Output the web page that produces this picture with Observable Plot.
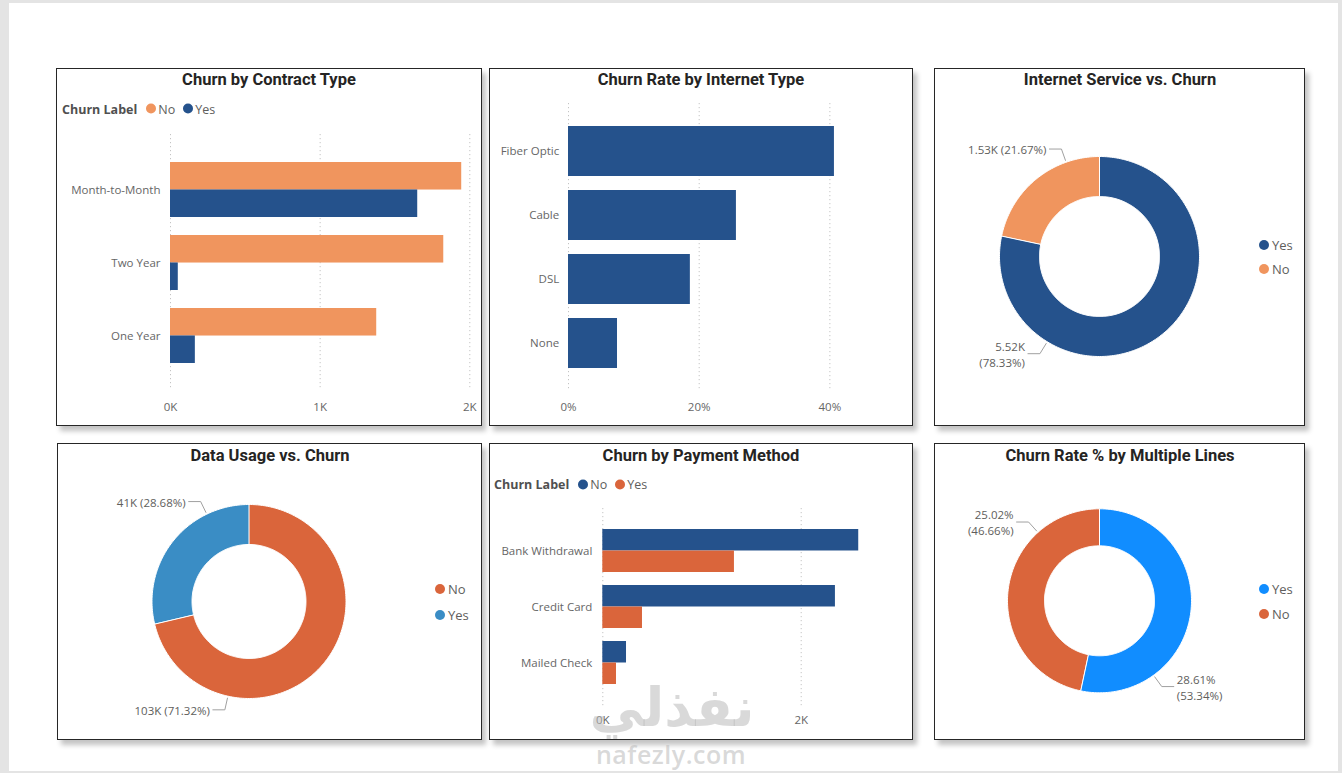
<!DOCTYPE html>
<html>
<head>
<meta charset="utf-8">
<script src="https://cdn.jsdelivr.net/npm/d3@7"></script>
<script src="https://cdn.jsdelivr.net/npm/@observablehq/plot@0.6"></script>
<style>
html,body{margin:0;padding:0;}
body{width:1342px;height:773px;background:#e4e4e4;position:relative;overflow:hidden;font-family:"Open Sans",sans-serif;}
#page{position:absolute;left:9px;top:3px;width:1329px;height:768px;background:#fff;}
.panel{position:absolute;box-sizing:border-box;border:1.5px solid #262626;background:#fff;box-shadow:4px 5px 5px rgba(0,0,0,0.24);}
.title{position:absolute;transform:translate(-50%,-50%);font-family:Roboto,sans-serif;font-weight:700;font-size:16.5px;color:#252423;white-space:nowrap;}
.chart{position:absolute;}
.chart svg{overflow:visible;}
.legend{position:absolute;display:flex;align-items:center;font-size:12.5px;color:#605E5C;transform:translateY(-50%);white-space:nowrap;}
.legend b{color:#505050;margin-right:9px;font-weight:700;}
.item{display:flex;align-items:center;margin-right:8px;}
.dot{width:10px;height:10px;border-radius:50%;margin-right:2px;}
.vitem{position:absolute;display:flex;align-items:center;font-size:13px;color:#605E5C;transform:translate(-5px,-50%);white-space:nowrap;}
.vitem .dot{margin-right:3px;}
.wm1{position:absolute;left:672px;top:707px;transform:translate(-50%,-50%);font-family:"DejaVu Sans",sans-serif;font-weight:700;font-size:54px;color:rgba(185,185,185,0.55);white-space:nowrap;pointer-events:none;}
.wm2{position:absolute;left:671px;top:754px;transform:translate(-50%,-50%);font-family:"Open Sans",sans-serif;font-weight:600;font-size:25px;line-height:28px;color:rgba(185,185,185,0.55);white-space:nowrap;pointer-events:none;letter-spacing:0.5px;}
</style>
</head>
<body>
<div id="page"></div>
<div id="root"></div>
<script>
// ---------------- DATA ----------------
const contractTypes = ["Month-to-Month", "Two Year", "One Year"];
const contractNo = [1946, 1826, 1378];
const contractYes = [1652, 52, 166];
const contractTicks = [0, 1000, 2000];

const internetTypes = ["Fiber Optic", "Cable", "DSL", "None"];
const internetChurnRate = [0.407, 0.257, 0.1865, 0.075];
const internetTicks = [0, 0.2, 0.4];

const internetServiceLabels = ["Yes", "No"];
const internetServiceCounts = [5517, 1526];

const dataUsageLabels = ["No", "Yes"];
const dataUsageValues = [102800, 41340];

const paymentMethods = ["Bank Withdrawal", "Credit Card", "Mailed Check"];
const paymentNo = [2580, 2345, 239];
const paymentYes = [1327, 400, 138];
const paymentTicks = [0, 2000];

const multipleLinesLabels = ["Yes", "No"];
const multipleLinesRates = [0.28606, 0.25024];

const churnSeries = ["No", "Yes"];

// ---------------- COLOURS ----------------
const cOrange = "#F0955E", cNavy = "#25528C", cRust = "#DA653B", cSteel = "#3A8DC5", cBright = "#118DFF";

// ---------------- LAYOUT ----------------
const root = document.getElementById("root");
function el(cls, style, html) {
  const d = document.createElement("div");
  d.className = cls;
  Object.assign(d.style, style);
  if (html !== undefined) d.innerHTML = html;
  root.appendChild(d);
  return d;
}
const panels = [
  {l: 56, t: 68, w: 426, h: 358, title: "Churn by Contract Type", tx: 269, ty: 79},
  {l: 489, t: 68, w: 424, h: 358, title: "Churn Rate by Internet Type", tx: 701, ty: 79},
  {l: 934, t: 68, w: 371, h: 358, title: "Internet Service vs. Churn", tx: 1120, ty: 79},
  {l: 57, t: 443, w: 425, h: 297, title: "Data Usage vs. Churn", tx: 270, ty: 455},
  {l: 489, t: 443, w: 424, h: 297, title: "Churn by Payment Method", tx: 701, ty: 455},
  {l: 934, t: 443, w: 371, h: 297, title: "Churn Rate % by Multiple Lines", tx: 1120, ty: 455}
];
panels.forEach(p => {
  el("panel", {left: p.l + "px", top: p.t + "px", width: p.w + "px", height: p.h + "px"});
});
panels.forEach(p => {
  el("title", {left: p.tx + "px", top: p.ty + "px"}, p.title);
});

function hLegend(x, y, labels, colors) {
  let html = "<b>Churn Label</b>";
  labels.forEach((lab, i) => {
    html += `<span class="item"><span class="dot" style="background:${colors[i]}"></span>${lab}</span>`;
  });
  el("legend", {left: x + "px", top: y + "px"}, html);
}
function vLegend(x, ys, labels, colors) {
  labels.forEach((lab, i) => {
    el("vitem", {left: x + "px", top: ys[i] + "px"}, `<span class="dot" style="background:${colors[i]}"></span>${lab}`);
  });
}

// ---------------- BAR CHARTS ----------------
function hbar({cats, series, values, colors, xDomain, xTicks, xFormat, L}) {
  const rows = [];
  cats.forEach((c, i) => series.forEach((s, k) => rows.push({cat: c, s, v: values[k][i]})));
  const len = L.height - L.marginTop - L.marginBottom;
  const step = len / (cats.length - L.pi + 2 * L.po);
  const bw = step * (1 - L.pi);
  const m = series.length;
  const marks = [
    Plot.gridX({ticks: xTicks, stroke: "#c4c4c4", strokeOpacity: 1, strokeWidth: 1, strokeDasharray: "1.2,2.8"})
  ];
  series.forEach((s, k) => {
    marks.push(Plot.barX(rows.filter(d => d.s === s), {
      x: "v", y: "cat", fill: "s",
      insetTop: k * bw / m, insetBottom: (m - 1 - k) * bw / m
    }));
  });
  marks.push(Plot.axisX({ticks: xTicks, tickFormat: xFormat, tickSize: 0, tickPadding: L.xPad, label: null, fill: "#666"}));
  marks.push(Plot.axisY({tickSize: 0, tickPadding: L.yPad, label: null, fill: "#666"}));
  const svg = Plot.plot({
    width: L.width, height: L.height,
    marginLeft: L.marginLeft, marginRight: L.marginRight, marginTop: L.marginTop, marginBottom: L.marginBottom,
    x: {domain: xDomain},
    y: {domain: cats, paddingInner: L.pi, paddingOuter: L.po},
    color: {domain: series, range: colors},
    style: {fontFamily: "'Open Sans', sans-serif", fontSize: "11.5px", background: "none", color: "#666"},
    marks
  });
  const d = el("chart", {left: L.left + "px", top: L.top + "px"});
  d.appendChild(svg);
}

hbar({
  cats: contractTypes, series: churnSeries, values: [contractNo, contractYes], colors: [cOrange, cNavy],
  xDomain: [0, 2000], xTicks: contractTicks, xFormat: d => d / 1000 + "K",
  L: {left: 56, top: 120, width: 425, height: 300, marginLeft: 114, marginRight: 11.7, marginTop: 14, marginBottom: 30,
      pi: 0.253, po: 0.367, xPad: 12, yPad: 10}
});
hLegend(62, 108.5, churnSeries, [cOrange, cNavy]);

hbar({
  cats: internetTypes, series: ["Churn Rate"], values: [internetChurnRate], colors: [cNavy],
  xDomain: [0, 0.5], xTicks: internetTicks, xFormat: d => Math.round(d * 100) + "%",
  L: {left: 489, top: 95, width: 423, height: 325, marginLeft: 79, marginRight: 17.3, marginTop: 8, marginBottom: 29,
      pi: 0.219, po: 0.359, xPad: 11, yPad: 9.3}
});

hbar({
  cats: paymentMethods, series: churnSeries, values: [paymentNo, paymentYes], colors: [cNavy, cRust],
  xDomain: [0, 3000], xTicks: paymentTicks, xFormat: d => d / 1000 + "K",
  L: {left: 489, top: 500, width: 423, height: 235, marginLeft: 113.3, marginRight: 12.1, marginTop: 8, marginBottom: 29.4,
      pi: 0.232, po: 0.38, xPad: 10, yPad: 10.5}
});
hLegend(494, 484, churnSeries, [cNavy, cRust]);

// ---------------- DONUTS ----------------
function donut({labels, values, colors, fmt, wrap, L}) {
  const total = d3.sum(values);
  const arcs = d3.pie().sort(null).value(d => d)(values);
  const poly = [];
  arcs.forEach((a, i) => {
    const n = Math.max(2, Math.ceil((a.endAngle - a.startAngle) / (Math.PI / 180)));
    for (let j = 0; j <= n; j++) {
      const t = a.startAngle + (a.endAngle - a.startAngle) * j / n;
      poly.push({k: labels[i], x: Math.sin(t) * L.R, y: -Math.cos(t) * L.R});
    }
    for (let j = n; j >= 0; j--) {
      const t = a.startAngle + (a.endAngle - a.startAngle) * j / n;
      poly.push({k: labels[i], x: Math.sin(t) * L.r, y: -Math.cos(t) * L.r});
    }
  });
  const leaders = [], left = [], right = [];
  arcs.forEach((a, i) => {
    const t = a.startAngle + 0.75 * (a.endAngle - a.startAngle);
    const s = Math.sin(t), c = -Math.cos(t);
    const side = s < 0 ? -1 : 1;
    const p0 = {x: s * (L.R + 2), y: c * (L.R + 2)};
    const p1 = {x: s * (L.R + 14), y: c * (L.R + 14)};
    const p2 = {x: p1.x + side * 12, y: p1.y};
    [p0, p1, p2].forEach(p => leaders.push({k: labels[i], x: p.x, y: p.y}));
    const pct = (values[i] / total * 100).toFixed(2) + "%";
    const txt = fmt(values[i]) + (wrap[i] ? "\n" : " ") + "(" + pct + ")";
    (side < 0 ? left : right).push({x: p2.x + side * 3, y: p2.y, text: txt});
  });
  const svg = Plot.plot({
    width: L.width, height: L.height, margin: 0,
    x: {domain: [-L.cx, L.width - L.cx], axis: null},
    y: {domain: [-L.cy, L.height - L.cy], range: [0, L.height], axis: null},
    color: {domain: labels, range: colors},
    style: {fontFamily: "'Open Sans', sans-serif", fontSize: "11.5px", background: "none"},
    marks: [
      Plot.line(poly, {x: "x", y: "y", z: "k", fill: "k", stroke: "#ffffff", strokeWidth: 1, curve: "linear-closed"}),
      Plot.line(leaders, {x: "x", y: "y", z: "k", stroke: "#a0a0a0", strokeWidth: 1}),
      Plot.text(left, {x: "x", y: "y", text: "text", textAnchor: "end", fill: "#605E5C", fontSize: 11.5, lineHeight: 1.4}),
      Plot.text(right, {x: "x", y: "y", text: "text", textAnchor: "start", fill: "#605E5C", fontSize: 11.5, lineHeight: 1.4})
    ]
  });
  const d = el("chart", {left: L.left + "px", top: L.top + "px"});
  d.appendChild(svg);
}

const kFmt2 = v => (v / 1000).toFixed(2) + "K";
const kFmt0 = v => (v / 1000).toFixed(0) + "K";
const pctFmt = v => (v * 100).toFixed(2) + "%";

donut({
  labels: internetServiceLabels, values: internetServiceCounts, colors: [cNavy, cOrange],
  fmt: kFmt2, wrap: [true, false],
  L: {left: 940, top: 95, width: 300, height: 320, cx: 159, cy: 161, R: 100, r: 60}
});
vLegend(1264, [245, 269], internetServiceLabels, [cNavy, cOrange]);

donut({
  labels: dataUsageLabels, values: dataUsageValues, colors: [cRust, cSteel],
  fmt: kFmt0, wrap: [false, false],
  L: {left: 62, top: 470, width: 340, height: 265, cx: 186.5, cy: 131, R: 97, r: 57}
});
vLegend(440, [589, 615], dataUsageLabels, [cRust, cSteel]);

donut({
  labels: multipleLinesLabels, values: multipleLinesRates, colors: [cBright, cRust],
  fmt: pctFmt, wrap: [true, true],
  L: {left: 940, top: 470, width: 300, height: 265, cx: 159, cy: 130.3, R: 92, r: 55}
});
vLegend(1264, [589, 614], multipleLinesLabels, [cBright, cRust]);

// watermark
el("wm1", {}, "نفذلي");
el("wm2", {}, "nafezly.com");
</script>
</body>
</html>
